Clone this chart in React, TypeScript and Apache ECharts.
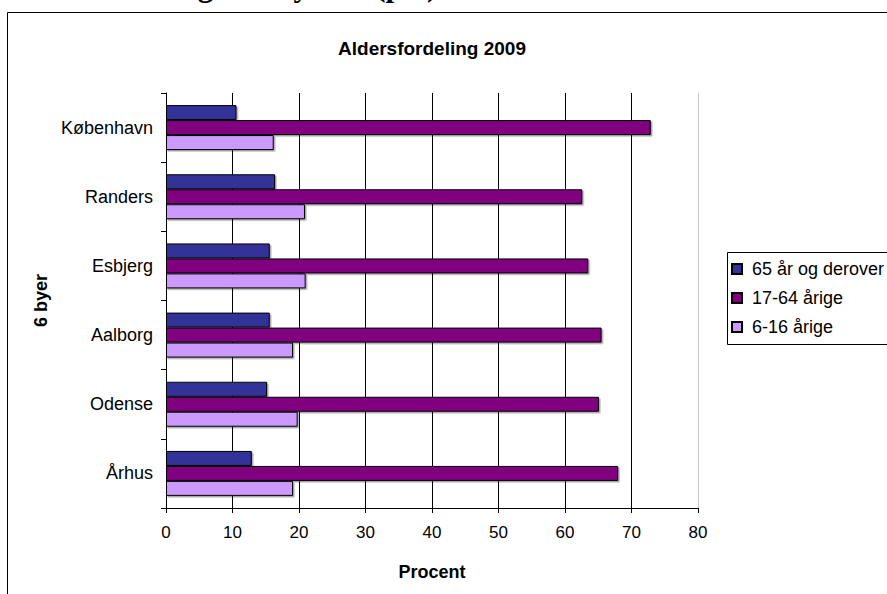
import React, { useEffect, useRef } from "react";
import * as echarts from "echarts";

const categories = ["Århus", "Odense", "Aalborg", "Esbjerg", "Randers", "København"];
const seriesNames = ["65 år og derover", "17-64 årige", "6-16 årige"];
const over65 = [12.9, 15.2, 15.6, 15.6, 16.4, 10.6];
const age17to64 = [68.0, 65.1, 65.5, 63.5, 62.6, 72.9];
const age6to16 = [19.1, 19.8, 19.1, 21.0, 20.9, 16.2];
const seriesValues = [over65, age17to64, age6to16];
const seriesColors = ["#333399", "#800080", "#CC99FF"];
const xMin = 0;
const xMax = 80;
const xInterval = 10;
const chartTitle = "Aldersfordeling 2009";
const pageHeading = "Aldersfordeling i de byerne (pct)";
const xAxisName = "Procent";
const yAxisName = "6 byer";

const SANS = "'Liberation Sans', Arial, sans-serif";

export default function App() {
  const ref = useRef<HTMLDivElement>(null);
  useEffect(() => {
    if (!ref.current) return;
    const chart = echarts.init(ref.current, undefined, { renderer: "svg" });
    const nLines = (xMax - xMin) / xInterval + 1;
    const splitColors: string[] = [];
    for (let i = 0; i < nLines; i++) splitColors.push(i === nLines - 1 ? "#c8c8c8" : "#000000");
    chart.setOption({
      animation: false,
      backgroundColor: "#ffffff",
      textStyle: { fontFamily: SANS },
      graphic: [
        {
          type: "text",
          silent: true,
          x: 5,
          y: -15,
          style: {
            text: pageHeading,
            font: "bold 31px 'Liberation Serif', 'Times New Roman', serif",
            fill: "#000",
            textAlign: "left",
            textVerticalAlign: "middle",
          },
        },
        {
          type: "rect",
          silent: true,
          shape: { x: 7.5, y: 12.5, width: 1000, height: 1000 },
          style: { fill: "none", stroke: "#000", lineWidth: 1 },
        },
        {
          type: "text",
          silent: true,
          x: 432,
          y: 48,
          style: {
            text: chartTitle,
            font: "bold 19px " + SANS,
            fill: "#000",
            textAlign: "center",
            textVerticalAlign: "middle",
          },
        },
        {
          type: "rect",
          silent: true,
          shape: { x: 727.5, y: 252.5, width: 300, height: 92 },
          style: { fill: "none", stroke: "#000", lineWidth: 1 },
        },
      ],
      legend: {
        orient: "vertical",
        left: 731,
        top: 260,
        padding: 0,
        icon: "rect",
        itemWidth: 10,
        itemHeight: 10,
        itemGap: 11,
        data: seriesNames,
        textStyle: { fontSize: 18, fontFamily: SANS, color: "#000", padding: [0, 0, 0, 5] },
      },
      grid: { left: 166, right: 189, top: 93, bottom: 86, containLabel: false },
      xAxis: {
        type: "value",
        min: xMin,
        max: xMax,
        interval: xInterval,
        axisLine: { show: true, lineStyle: { color: "#000", width: 1 } },
        axisTick: { show: true, length: 5, lineStyle: { color: "#000" } },
        axisLabel: { fontSize: 17, color: "#000", margin: 16, fontFamily: SANS },
        splitLine: { show: true, lineStyle: { color: splitColors, width: 1 } },
        name: xAxisName,
        nameLocation: "middle",
        nameGap: 55,
        nameTextStyle: { fontSize: 18, fontWeight: "bold", color: "#000", fontFamily: SANS },
      },
      yAxis: {
        type: "category",
        data: categories,
        axisLine: { show: true, lineStyle: { color: "#000", width: 1 } },
        axisTick: { show: true, length: 5, lineStyle: { color: "#000" } },
        axisLabel: { fontSize: 18, color: "#000", margin: 13, fontFamily: SANS },
        splitLine: { show: false },
        name: yAxisName,
        nameLocation: "middle",
        nameGap: 114,
        nameRotate: 90,
        nameTextStyle: { fontSize: 18, fontWeight: "bold", color: "#000", fontFamily: SANS },
      },
      series: seriesNames.map((name, i) => ({
        name,
        type: "bar",
        data: seriesValues[i],
        barGap: "0%",
        barCategoryGap: "35%",
        itemStyle: {
          color: seriesColors[i],
          borderColor: "#000",
          borderWidth: 1,
          shadowColor: "rgba(0,0,0,0.35)",
          shadowOffsetX: 1.5,
          shadowOffsetY: 1.5,
          shadowBlur: 0,
        },
        emphasis: { disabled: true },
      })),
    });
    return () => chart.dispose();
  }, []);
  return (
    <div
      ref={ref}
      style={{ position: "fixed", left: 0, top: 0, width: 887, height: 594, background: "#fff" }}
    />
  );
}
